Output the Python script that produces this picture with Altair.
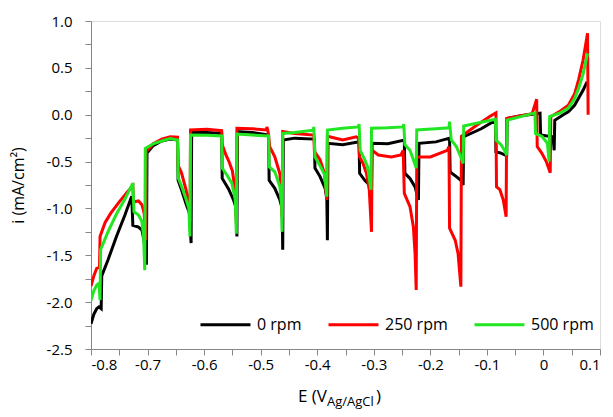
import altair as alt
import pandas as pd

# ---- data ----
black_E = [-0.800,-0.795,-0.790,-0.786,-0.782,-0.781,-0.770,-0.755,-0.740,-0.728,-0.726,-0.716,-0.710,-0.706,-0.702,
           -0.701,-0.690,-0.675,-0.660,-0.647,-0.646,-0.640,-0.632,-0.626,-0.623,
           -0.622,-0.595,-0.569,-0.568,-0.557,-0.548,-0.543,-0.542,
           -0.541,-0.515,-0.486,-0.485,-0.475,-0.466,-0.462,-0.461,
           -0.460,-0.440,-0.405,-0.404,-0.395,-0.386,-0.383,-0.382,
           -0.381,-0.355,-0.326,-0.325,-0.316,-0.309,-0.304,
           -0.303,-0.275,-0.246,-0.245,-0.236,-0.227,-0.221,
           -0.220,-0.190,-0.166,-0.165,-0.154,-0.146,-0.142,
           -0.141,-0.110,-0.085,-0.084,-0.075,-0.068,-0.065,
           -0.064,-0.040,-0.006,-0.005,0.004,0.017,0.019,
           0.020,0.035,0.044,0.055,0.062,0.070,0.077]
black_i = [-2.23,-2.13,-2.07,-2.05,-2.07,-1.72,-1.55,-1.30,-1.07,-0.87,-1.18,-1.20,-1.23,-1.35,-1.60,
           -0.41,-0.33,-0.28,-0.26,-0.27,-0.70,-0.80,-0.95,-1.05,-1.37,
           -0.19,-0.19,-0.20,-0.68,-0.79,-0.91,-1.00,-1.30,
           -0.18,-0.19,-0.217,-0.70,-0.785,-0.91,-1.00,-1.44,
           -0.27,-0.25,-0.26,-0.57,-0.66,-0.785,-0.90,-1.34,
           -0.305,-0.32,-0.29,-0.625,-0.70,-0.74,-0.80,
           -0.305,-0.31,-0.27,-0.625,-0.68,-0.77,-0.91,
           -0.305,-0.29,-0.25,-0.61,-0.66,-0.70,-0.75,
           -0.235,-0.15,-0.06,-0.395,-0.41,-0.43,-0.43,
           -0.04,-0.01,0.015,-0.215,-0.225,-0.235,-0.38,
           -0.06,0.0,0.03,0.10,0.175,0.26,0.35]

red_E = [-0.800,-0.795,-0.790,-0.785,-0.784,-0.775,-0.765,-0.750,-0.735,-0.726,-0.725,-0.716,-0.710,-0.706,-0.703,
         -0.702,-0.690,-0.675,-0.660,-0.647,-0.646,-0.640,-0.632,-0.627,-0.625,
         -0.624,-0.595,-0.569,-0.568,-0.562,-0.556,-0.550,-0.546,-0.543,
         -0.542,-0.515,-0.490,-0.489,-0.487,-0.484,-0.475,-0.466,-0.462,
         -0.461,-0.440,-0.406,-0.405,-0.395,-0.387,-0.383,
         -0.382,-0.355,-0.331,-0.327,-0.325,-0.319,-0.313,-0.308,-0.304,
         -0.303,-0.292,-0.269,-0.252,-0.248,-0.246,-0.236,-0.230,-0.227,-0.225,
         -0.224,-0.200,-0.170,-0.167,-0.166,-0.156,-0.151,-0.146,
         -0.145,-0.120,-0.095,-0.084,-0.083,-0.077,-0.071,-0.066,
         -0.065,-0.040,-0.020,-0.012,-0.011,-0.003,0.005,0.012,
         0.013,0.030,0.044,0.055,0.062,0.070,0.078,0.079]
red_i = [-1.83,-1.72,-1.64,-1.63,-1.30,-1.15,-1.05,-0.93,-0.82,-0.76,-0.93,-0.92,-0.96,-1.05,-1.34,
         -0.39,-0.31,-0.26,-0.235,-0.24,-0.54,-0.62,-0.80,-0.95,-1.15,
         -0.163,-0.155,-0.17,-0.32,-0.42,-0.50,-0.60,-0.77,-1.16,
         -0.145,-0.15,-0.163,-0.13,-0.18,-0.34,-0.45,-0.63,-1.09,
         -0.18,-0.20,-0.217,-0.39,-0.48,-0.63,-0.91,
         -0.23,-0.27,-0.235,-0.25,-0.45,-0.52,-0.625,-0.80,-1.25,
         -0.38,-0.43,-0.45,-0.43,-0.38,-0.84,-0.98,-1.195,-1.48,-1.87,
         -0.45,-0.45,-0.38,-0.34,-1.21,-1.34,-1.48,-1.835,
         -0.23,-0.12,-0.02,0.02,-0.77,-0.80,-0.91,-1.09,
         -0.04,-0.01,0.01,0.165,-0.34,-0.41,-0.50,-0.62,
         -0.02,0.04,0.10,0.22,0.37,0.58,0.87,0.0]

green_E = [-0.800,-0.795,-0.790,-0.786,-0.784,-0.783,-0.770,-0.755,-0.740,-0.726,-0.724,-0.716,-0.710,-0.707,-0.705,
           -0.704,-0.690,-0.675,-0.660,-0.647,-0.646,-0.640,-0.632,-0.627,-0.625,
           -0.624,-0.595,-0.569,-0.568,-0.560,-0.551,-0.545,-0.543,
           -0.542,-0.515,-0.486,-0.485,-0.475,-0.466,-0.463,-0.462,
           -0.461,-0.440,-0.407,-0.406,-0.404,-0.394,-0.387,-0.383,
           -0.382,-0.355,-0.327,-0.326,-0.324,-0.317,-0.311,-0.305,
           -0.304,-0.275,-0.248,-0.247,-0.245,-0.236,-0.230,-0.225,
           -0.224,-0.190,-0.167,-0.166,-0.163,-0.154,-0.146,-0.142,
           -0.141,-0.110,-0.085,-0.084,-0.075,-0.069,-0.065,
           -0.064,-0.040,-0.015,-0.014,-0.002,0.007,0.010,
           0.011,0.030,0.044,0.055,0.062,0.070,0.078]
green_i = [-1.98,-1.88,-1.82,-1.80,-1.98,-1.44,-1.25,-1.06,-0.90,-0.73,-1.035,-1.07,-1.14,-1.30,-1.66,
           -0.36,-0.31,-0.28,-0.255,-0.27,-0.67,-0.76,-0.90,-1.00,-1.30,
           -0.217,-0.22,-0.227,-0.57,-0.64,-0.73,-0.90,-1.27,
           -0.206,-0.217,-0.227,-0.555,-0.61,-0.77,-0.95,-1.25,
           -0.20,-0.19,-0.165,-0.13,-0.45,-0.555,-0.64,-0.875,
           -0.163,-0.145,-0.13,-0.10,-0.38,-0.465,-0.555,-0.80,
           -0.145,-0.14,-0.13,-0.10,-0.32,-0.38,-0.48,-0.57,
           -0.163,-0.15,-0.14,-0.075,-0.27,-0.34,-0.45,-0.52,
           -0.12,-0.08,-0.05,-0.27,-0.32,-0.38,-0.43,
           -0.057,-0.02,0.02,-0.20,-0.235,-0.305,-0.50,
           -0.02,0.02,0.07,0.17,0.28,0.43,0.655]

series_names = ["0 rpm", "250 rpm", "500 rpm"]
series_colors = ["#000000", "#FF0000", "#22E622"]

x_ticks = [-0.8,-0.75,-0.7,-0.65,-0.6,-0.55,-0.5,-0.45,-0.4,-0.35,-0.3,-0.25,-0.2,-0.15,-0.1,-0.05,0.0,0.05,0.1]
y_ticks = [-2.5,-2.25,-2.0,-1.75,-1.5,-1.25,-1.0,-0.75,-0.5,-0.25,0.0,0.25,0.5,0.75,1.0]

rows = []
for name, E, I in zip(series_names, [black_E, red_E, green_E], [black_i, red_i, green_i]):
    for k, (e, v) in enumerate(zip(E, I)):
        rows.append({"series": name, "E": e, "i": v, "ord": k})
df = pd.DataFrame(rows)

FONT = "Open Sans"
minus_fix = "replace(format(datum.value, '.1f'), '\u2212', '-')"

lines = alt.Chart(df).mark_line(strokeWidth=3, clip=True).encode(
    x=alt.X("E:Q", scale=alt.Scale(domain=[-0.8, 0.1], nice=False, zero=False),
            axis=alt.Axis(values=x_ticks, title=None, grid=False,
                          labelExpr="abs(round(datum.value*20)) % 2 == 0 ? (abs(datum.value) < 1e-9 ? '0' : " + minus_fix + ") : ''",
                          tickSize=6, labelPadding=2, labelFontSize=15, labelFont=FONT, labelColor="#000000",
                          domainColor="#868686", tickColor="#868686", labelOverlap=False)),
    y=alt.Y("i:Q", scale=alt.Scale(domain=[-2.5, 1.0], nice=False, zero=False),
            axis=alt.Axis(values=y_ticks, title="i (mA/cm²)", grid=False,
                          labelExpr="abs(round(datum.value*4)) % 2 == 0 ? " + minus_fix + " : ''",
                          tickSize=6, labelPadding=13, labelFontSize=15, labelFont=FONT, labelColor="#000000",
                          domainColor="#868686", tickColor="#868686", labelOverlap=False,
                          titleFont=FONT, titleFontSize=16, titleFontWeight="normal", titleColor="#000000",
                          titleX=-73, titleY=164, titleAngle=270, titleAlign="center", titleBaseline="middle")),
    color=alt.Color("series:N", scale=alt.Scale(domain=series_names, range=series_colors),
                    legend=alt.Legend(title=None, orient="none", legendX=108, legendY=277, direction="horizontal",
                                      symbolType="stroke", symbolSize=2500, symbolStrokeWidth=3,
                                      labelFontSize=16, labelFont=FONT, labelColor="#000000",
                                      columnPadding=20, labelOffset=5)),
    order="ord:Q",
)

t_main = alt.Chart(pd.DataFrame({"t": ["E (V"]})).mark_text(
    align="right", baseline="alphabetic", fontSize=17, font=FONT, color="#000000"
).encode(x=alt.value(236), y=alt.value(381), text="t:N")
t_sub = alt.Chart(pd.DataFrame({"t": ["Ag/AgCl"]})).mark_text(
    align="left", baseline="alphabetic", fontSize=13, font=FONT, color="#000000"
).encode(x=alt.value(236), y=alt.value(385), text="t:N")
t_end = alt.Chart(pd.DataFrame({"t": [")"]})).mark_text(
    align="left", baseline="alphabetic", fontSize=17, font=FONT, color="#000000"
).encode(x=alt.value(285), y=alt.value(381), text="t:N")

chart = alt.layer(lines, t_main, t_sub, t_end).properties(
    width=509, height=328,
    autosize=alt.AutoSizeParams(type="none"),
    padding={"left": 83, "top": 13, "right": 5, "bottom": 66},
).configure_view(stroke=None).configure(font=FONT)

chart.save("out.html", embed_options={"renderer": "svg", "actions": False})
